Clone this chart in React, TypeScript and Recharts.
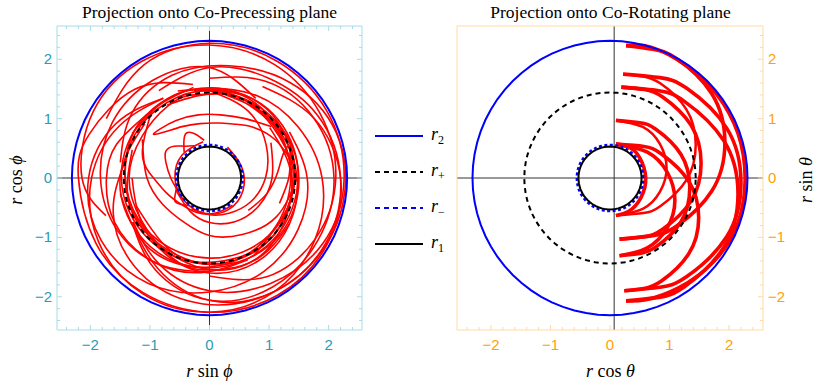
import React from 'react';
import { LineChart, Line, XAxis, YAxis, ReferenceLine } from 'recharts';

// tick positions (frame ticks every 0.2, labels on integers)
const frameTicks = [
  -2.4, -2.2, -2, -1.8, -1.6, -1.4, -1.2, -1, -0.8, -0.6, -0.4, -0.2, 0,
  0.2, 0.4, 0.6, 0.8, 1, 1.2, 1.4, 1.6, 1.8, 2, 2.2, 2.4,
];
const majorTicks = [-2, -1, 0, 1, 2];

// boundary circles: r2, r+, r-, r1
const boundaryNames = ['r2', 'r+', 'r−', 'r1'];
const boundaryRadii = [2.31, 1.44, 0.56, 0.53];
const circleAngles = Array.from({ length: 73 }, (_, i) => i * 5);

const leftOuterArcs = [
  [[150, 2.0], [120, 2.2], [90, 2.27], [60, 2.27], [30, 2.27], [0, 2.26], [-30, 2.2], [-60, 2.05], [-90, 1.9], [-120, 1.68], [-150, 1.48]],
  [[200, 1.85], [180, 2.14], [150, 2.25], [120, 2.27], [90, 2.24], [60, 2.2], [30, 2.15], [0, 2.12], [-30, 2.05], [-60, 1.92], [-90, 1.65]],
  [[100, 1.6], [130, 1.95], [160, 2.15], [180, 2.2], [210, 2.2], [240, 2.23], [270, 2.26], [300, 2.28], [330, 2.27], [360, 2.2], [390, 2.02], [420, 1.78]],
  [[170, 1.45], [200, 1.72], [230, 1.95], [260, 2.1], [290, 2.18], [320, 2.24], [350, 2.28], [380, 2.26], [410, 2.1], [440, 1.92], [470, 1.84], [500, 1.7], [530, 1.52]],
  [[210, 1.5], [240, 1.8], [270, 2.06], [300, 2.12], [330, 2.1], [360, 2.09], [390, 2.02], [420, 1.88], [450, 1.68]],
  [[120, 1.55], [150, 1.82], [180, 2.03], [210, 2.1], [240, 2.05], [270, 1.92], [300, 1.82], [330, 1.72], [360, 1.64], [390, 1.55]],
  [[90, 1.52], [60, 1.6], [30, 1.72], [0, 1.89], [-30, 2.05], [-60, 2.2], [-90, 2.26], [-120, 2.25], [-150, 2.15], [-180, 1.98], [-210, 1.75], [-240, 1.55]],
  [[135, 1.5], [160, 1.66], [180, 1.73], [205, 1.76], [235, 1.7], [265, 1.6], [295, 1.52]],
  [[60, 1.55], [90, 1.86], [120, 1.9], [150, 1.88], [180, 1.83], [210, 1.78], [240, 1.68], [270, 1.58]],
  [[-150, 1.5], [-120, 1.75], [-90, 2.06], [-60, 2.2], [-30, 2.24], [0, 2.2], [30, 2.1], [60, 1.95], [90, 1.86], [120, 1.7]],
];

const leftBandArcs = [
  [[0, 1.45], [45, 1.5], [90, 1.52], [135, 1.5], [180, 1.48], [225, 1.45], [270, 1.45], [315, 1.45], [360, 1.45]],
  [[30, 1.47], [90, 1.47], [150, 1.45], [210, 1.38], [270, 1.35], [330, 1.4], [390, 1.47], [450, 1.5]],
  [[-60, 1.5], [0, 1.42], [60, 1.42], [90, 1.41], [120, 1.4], [180, 1.35], [240, 1.45], [270, 1.55], [300, 1.58], [330, 1.55]],
  [[180, 1.3], [210, 1.35], [240, 1.48], [270, 1.6], [300, 1.62], [330, 1.55], [360, 1.47], [390, 1.42], [420, 1.45]],
  [[100, 1.55], [140, 1.5], [180, 1.42], [220, 1.4], [260, 1.5], [290, 1.58], [320, 1.5], [360, 1.38], [400, 1.32]],
  [[200, 1.32], [240, 1.38], [270, 1.42], [310, 1.45], [350, 1.4], [390, 1.38], [430, 1.45], [470, 1.52], [510, 1.5]],
  [[140, 1.42], [180, 1.5], [220, 1.52], [260, 1.52], [300, 1.5], [340, 1.48], [380, 1.5], [420, 1.52], [460, 1.5]],
  [[160, 1.38], [200, 1.42], [240, 1.4], [280, 1.48], [320, 1.52], [360, 1.5], [400, 1.47], [440, 1.44], [480, 1.42]],
  [[190, 1.52], [230, 1.56], [270, 1.5], [310, 1.4], [350, 1.36], [390, 1.4], [430, 1.5], [470, 1.56]],
];

const leftInnerArcs = [
  [[100, 0.62], [140, 0.6], [180, 0.58], [220, 0.57], [260, 0.6], [300, 0.62], [340, 0.6], [380, 0.57], [420, 0.6]],
  [[240, 0.6], [270, 0.62], [300, 0.68], [330, 0.8], [360, 0.94], [390, 1.1], [420, 1.3], [450, 1.47]],
  [[200, 0.6], [240, 0.65], [270, 0.75], [300, 0.85], [330, 0.95], [360, 1.05], [390, 1.19]],
  [[150, 1.3], [180, 1.05], [210, 0.9], [240, 0.86], [270, 0.97], [300, 1.1], [330, 1.3], [360, 1.47]],
  [[130, 1.5], [160, 1.2], [180, 0.94], [200, 0.76], [220, 0.66], [250, 0.62], [280, 0.6], [310, 0.6]],
  [[205, 0.57], [180, 0.65], [160, 0.78], [148, 0.86], [138, 0.8], [128, 0.68], [115, 0.6]],
  [[135, 0.6], [125, 0.75], [117, 0.85], [108, 0.78], [98, 0.64]],
  [[235, 0.57], [222, 0.66], [214, 0.7], [206, 0.64], [195, 0.57]],
  [[40, 1.35], [60, 1.16], [80, 1.08], [100, 1.08], [120, 1.12], [135, 1.17], [142, 1.19], [133, 1.07], [118, 0.98], [100, 0.93], [80, 0.94], [65, 1.0], [50, 1.12], [30, 1.28], [10, 1.42]],
  [[-20, 1.25], [0, 1.33], [15, 1.4], [22, 1.44], [18, 1.3], [5, 1.15], [-15, 1.0], [-40, 0.85]],
];

const rightArcs = [
  [[0.27, 2.23], [0.7, 2.2], [1.3, 1.88], [1.8, 1.4], [2.15, 0.75], [2.27, 0.0], [2.15, -0.75], [1.75, -1.4], [1.15, -1.85], [0.6, -2.05], [0.27, -2.07]],
  [[0.27, 2.23], [0.72, 2.17], [1.12, 2.01], [1.71, 1.42], [1.93, 0.6], [1.71, -0.22], [1.12, -0.81], [0.72, -0.97], [0.16, -1.03]],
  [[0.27, -2.07], [0.82, -2.01], [1.25, -1.83], [1.91, -1.17], [2.15, -0.27], [1.91, 0.63], [1.25, 1.29], [0.82, 1.47], [0.19, 1.53]],
  [[0.22, 1.75], [0.84, 1.69], [1.29, 1.51], [1.96, 0.84], [2.2, -0.08], [1.96, -0.99], [1.29, -1.66], [0.84, -1.84], [0.24, -1.9]],
  [[0.22, 1.75], [0.56, 1.71], [0.85, 1.59], [1.28, 1.16], [1.44, 0.56], [1.28, -0.04], [0.85, -0.47], [0.56, -0.59], [0.1, -0.63]],
  [[0.24, -1.9], [0.57, -1.86], [0.87, -1.73], [1.32, -1.28], [1.49, -0.67], [1.32, -0.05], [0.87, 0.4], [0.57, 0.53], [0.1, 0.57]],
  [[0.19, 1.53], [0.58, 1.49], [0.89, 1.36], [1.36, 0.89], [1.53, 0.25], [1.36, -0.39], [0.89, -0.86], [0.58, -0.99], [0.16, -1.03]],
  [[0.1, 0.97], [0.5, 0.93], [0.77, 0.82], [1.19, 0.4], [1.34, -0.17], [1.19, -0.74], [0.77, -1.16], [0.5, -1.27], [0.16, -1.31]],
  [[0.1, 0.97], [0.55, 0.86], [0.84, 0.57], [0.95, 0.17], [0.84, -0.23], [0.55, -0.52], [0.1, -0.63]],
  [[0.1, 0.57], [0.62, 0.44], [0.96, 0.1], [1.09, -0.37], [0.96, -0.84], [0.62, -1.18], [0.16, -1.31]],
  [[0.1, 0.57], [0.32, 0.52], [0.5, 0.34], [0.6, 0.0], [0.52, -0.33], [0.33, -0.55], [0.1, -0.63]],
];
const rightWidths = [3.6, 3.6, 3.6, 3.6, 2.5, 3.6, 3.6, 3.6, 2.5, 3.6, 3.6];

const fromPolar = (pts: number[][]) =>
  pts.map(([deg, r]) => ({
    x: r * Math.cos((deg * Math.PI) / 180),
    y: r * Math.sin((deg * Math.PI) / 180),
  }));
const fromXY = (pts: number[][]) => pts.map(([x, y]) => ({ x, y }));
const circlePoints = (r: number) =>
  circleAngles.map((a) => ({ x: r * Math.cos((a * Math.PI) / 180), y: r * Math.sin((a * Math.PI) / 180) }));

const LEFT_LABEL = '#2a9bb7';
const LEFT_FRAME = '#a8dbe6';
const RIGHT_LABEL = '#ffa200';
const RIGHT_FRAME = '#ffd9a3';
const serif = '"Liberation Serif", "DejaVu Serif", serif';
const sans = '"Liberation Sans", Arial, sans-serif';

const isMajor = (v: number) => majorTicks.some((m) => Math.abs(m - v) < 1e-6);
const fmt = (v: number) => (v < 0 ? `\u2212${-v}` : `${v}`);

type Side = 'bottom' | 'top' | 'left' | 'right';

function frameTick(side: Side, frame: string, label: string | null) {
  return (props: any) => {
    const { x, y, payload } = props;
    const v = payload.value;
    const major = isMajor(v);
    const len = major ? 5 : 3;
    let line;
    if (side === 'bottom') line = <line x1={x} x2={x} y1={y} y2={y - len} stroke={frame} />;
    else if (side === 'top') line = <line x1={x} x2={x} y1={y} y2={y + len} stroke={frame} />;
    else if (side === 'left') line = <line x1={x} x2={x + len} y1={y} y2={y} stroke={frame} />;
    else line = <line x1={x} x2={x - len} y1={y} y2={y} stroke={frame} />;
    let text = null;
    if (label && major) {
      if (side === 'bottom')
        text = <text x={x} y={y + 20} textAnchor="middle" fill={label} fontSize={15} fontFamily={sans}>{fmt(v)}</text>;
      else if (side === 'left')
        text = <text x={x - 5} y={y + 5} textAnchor="end" fill={label} fontSize={15} fontFamily={sans}>{fmt(v)}</text>;
      else if (side === 'right')
        text = <text x={x + 5} y={y + 5} textAnchor="start" fill={label} fontSize={15} fontFamily={sans}>{fmt(v)}</text>;
    }
    return (
      <g>
        {line}
        {text}
      </g>
    );
  };
}

function boundaryLines() {
  return [
    <Line key="rp" data={circlePoints(boundaryRadii[1])} dataKey="y" type="linear" stroke="#000" strokeWidth={2} strokeDasharray="5 4" dot={false} activeDot={false} isAnimationActive={false} />,
    <Line key="rm" data={circlePoints(boundaryRadii[2])} dataKey="y" type="linear" stroke="#0000ff" strokeWidth={2.2} strokeDasharray="3 2.5" dot={false} activeDot={false} isAnimationActive={false} />,
    <Line key="r1" data={circlePoints(boundaryRadii[3])} dataKey="y" type="linear" stroke="#000" strokeWidth={2} dot={false} activeDot={false} isAnimationActive={false} />,
    <Line key="r2" data={circlePoints(boundaryRadii[0])} dataKey="y" type="linear" stroke="#0000ff" strokeWidth={2} dot={false} activeDot={false} isAnimationActive={false} />,
  ];
}

function LeftPanel() {
  const curves = [...leftOuterArcs, ...leftBandArcs, ...leftInnerArcs].map(fromPolar);
  return (
    <LineChart width={400} height={386} margin={{ top: 25, right: 37, bottom: 55, left: 56 }}>
      <XAxis dataKey="x" type="number" domain={[-2.56, 2.56]} allowDataOverflow ticks={frameTicks} interval={0}
        height={1} tickSize={0} tickMargin={0} axisLine={{ stroke: LEFT_FRAME }} tickLine={false}
        tick={frameTick('bottom', LEFT_FRAME, LEFT_LABEL)} />
      <XAxis xAxisId="top" orientation="top" dataKey="x" type="number" domain={[-2.56, 2.56]} allowDataOverflow ticks={frameTicks} interval={0}
        height={1} tickSize={0} tickMargin={0} axisLine={{ stroke: LEFT_FRAME }} tickLine={false}
        tick={frameTick('top', LEFT_FRAME, null)} />
      <YAxis type="number" domain={[-2.56, 2.56]} allowDataOverflow ticks={frameTicks} interval={0}
        width={1} tickSize={0} tickMargin={0} axisLine={{ stroke: LEFT_FRAME }} tickLine={false}
        tick={frameTick('left', LEFT_FRAME, LEFT_LABEL)} />
      <YAxis yAxisId="right" orientation="right" type="number" domain={[-2.56, 2.56]} allowDataOverflow ticks={frameTicks} interval={0}
        width={1} tickSize={0} tickMargin={0} axisLine={{ stroke: LEFT_FRAME }} tickLine={false}
        tick={frameTick('right', LEFT_FRAME, null)} />
      <ReferenceLine x={0} stroke="#333" strokeWidth={1} />
      <ReferenceLine y={0} stroke="#333" strokeWidth={1} />
      {curves.map((pts, i) => (
        <Line key={`l${i}`} data={pts} dataKey="y" type="natural" stroke="#ff0000" strokeWidth={1.6}
          dot={false} activeDot={false} isAnimationActive={false} />
      ))}
      {boundaryLines()}
    </LineChart>
  );
}

function RightPanel() {
  const curves = rightArcs.map(fromXY);
  return (
    <LineChart width={397} height={386} margin={{ top: 25, right: 53, bottom: 55, left: 36 }}>
      <XAxis dataKey="x" type="number" domain={[-2.57, 2.57]} allowDataOverflow ticks={frameTicks} interval={0}
        height={1} tickSize={0} tickMargin={0} axisLine={{ stroke: RIGHT_FRAME }} tickLine={false}
        tick={frameTick('bottom', RIGHT_FRAME, RIGHT_LABEL)} />
      <XAxis xAxisId="top" orientation="top" dataKey="x" type="number" domain={[-2.57, 2.57]} allowDataOverflow
        height={1} axisLine={{ stroke: RIGHT_FRAME }} tickLine={false} tick={false} />
      <YAxis type="number" domain={[-2.56, 2.56]} allowDataOverflow width={1}
        axisLine={{ stroke: RIGHT_FRAME }} tickLine={false} tick={false} />
      <YAxis yAxisId="right" orientation="right" type="number" domain={[-2.56, 2.56]} allowDataOverflow ticks={frameTicks} interval={0}
        width={1} tickSize={0} tickMargin={0} axisLine={{ stroke: RIGHT_FRAME }} tickLine={false}
        tick={frameTick('right', RIGHT_FRAME, RIGHT_LABEL)} />
      <ReferenceLine x={0.07} stroke="#333" strokeWidth={1} />
      <ReferenceLine y={0} stroke="#333" strokeWidth={1} />
      {curves.map((pts, i) => (
        <Line key={`r${i}`} data={pts} dataKey="y" type="natural" stroke="#ff0000" strokeWidth={rightWidths[i]}
          dot={false} activeDot={false} isAnimationActive={false} />
      ))}
      {boundaryLines()}
    </LineChart>
  );
}

const legendY = [136, 172, 208, 244];
const legendStyles = [
  { stroke: '#0000ff', dash: undefined },
  { stroke: '#000', dash: '5 4' },
  { stroke: '#0000ff', dash: '5 4' },
  { stroke: '#000', dash: undefined },
];
const legendSubs = ['2', '+', '\u2212', '1'];

export default function App() {
  return (
    <div style={{ position: 'absolute', left: 0, top: 0, width: 817, height: 386, background: '#fff' }}>
      <div style={{ position: 'absolute', left: 0, top: 0 }}>
        <LeftPanel />
      </div>
      <div style={{ position: 'absolute', left: 420, top: 0 }}>
        <RightPanel />
      </div>
      <svg width={817} height={386} style={{ position: 'absolute', left: 0, top: 0, pointerEvents: 'none' }}>
        <text x={209.5} y={18} textAnchor="middle" fontFamily={serif} fontSize={17.5}>Projection onto Co-Precessing plane</text>
        <text x={610.5} y={18} textAnchor="middle" fontFamily={serif} fontSize={17.5}>Projection onto Co-Rotating plane</text>
        <text x={209.5} y={377} textAnchor="middle" fontFamily={serif} fontSize={18}>
          <tspan fontStyle="italic">r</tspan> sin <tspan fontStyle="italic">ϕ</tspan>
        </text>
        <text x={610.5} y={377} textAnchor="middle" fontFamily={serif} fontSize={18}>
          <tspan fontStyle="italic">r</tspan> cos <tspan fontStyle="italic">θ</tspan>
        </text>
        <text transform="translate(22,180) rotate(-90)" textAnchor="middle" fontFamily={serif} fontSize={18}>
          <tspan fontStyle="italic">r</tspan> cos <tspan fontStyle="italic">ϕ</tspan>
        </text>
        <text transform="translate(812,180) rotate(-90)" textAnchor="middle" fontFamily={serif} fontSize={18}>
          <tspan fontStyle="italic">r</tspan> sin <tspan fontStyle="italic">θ</tspan>
        </text>
        {boundaryNames.map((name, i) => (
          <g key={name}>
            <line x1={375} x2={423} y1={legendY[i]} y2={legendY[i]} stroke={legendStyles[i].stroke}
              strokeWidth={2.2} strokeDasharray={legendStyles[i].dash} />
            <text x={431} y={legendY[i] + 4} fontFamily={serif} fontSize={18}>
              <tspan fontStyle="italic">r</tspan>
              <tspan fontSize={12} dy={4}>{legendSubs[i]}</tspan>
            </text>
          </g>
        ))}
      </svg>
    </div>
  );
}
